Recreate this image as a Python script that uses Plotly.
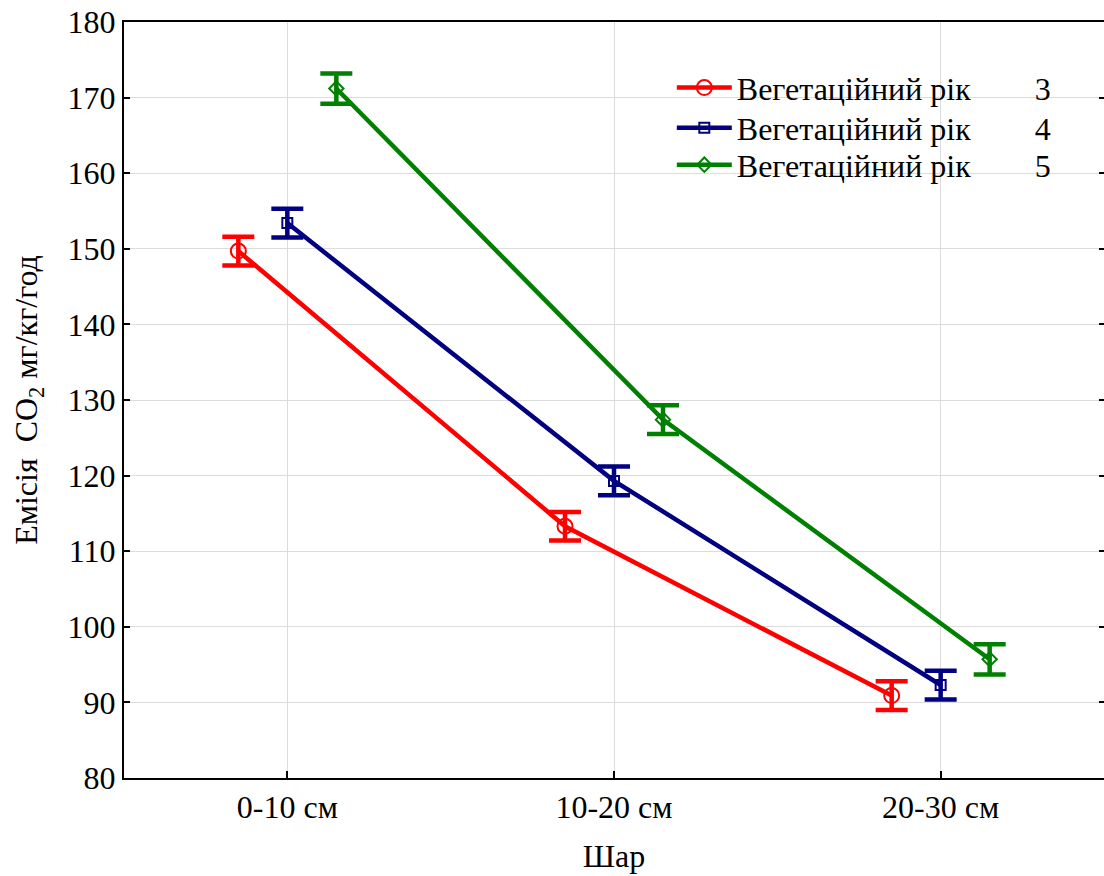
import plotly.graph_objects as go

categories = ["0-10 см", "10-20 см", "20-30 см"]
series_names = ["3", "4", "5"]
year3 = [149.7, 113.3, 90.9]
year4 = [153.4, 119.3, 92.3]
year5 = [171.2, 127.4, 95.7]
err3 = [1.9, 1.9, 1.9]
err4 = [1.9, 1.9, 1.9]
err5 = [2.0, 1.9, 2.0]
y_ticks = [80, 90, 100, 110, 120, 130, 140, 150, 160, 170, 180]

colors = ["#ff0000", "#000080", "#008000"]
symbols = ["circle-open", "square-open", "diamond-open"]
msizes = [15, 10, 11]
offsets = [-0.15, 0.0, 0.15]
values = [year3, year4, year5]
errors = [err3, err4, err5]
legend_ids = ["legend", "legend2", "legend3"]
legend_y = [0.913, 0.860, 0.811]

FONT = "Liberation Serif"
FS = 32
fig = go.Figure()
for i in range(3):
    xs = [k + offsets[i] for k in range(len(categories))]
    label = "Вегетаційний рік" + "\u00a0" * 8 + series_names[i]
    fig.add_trace(go.Scatter(
        x=xs, y=values[i], name=label, mode="lines+markers",
        legend=legend_ids[i],
        line=dict(color=colors[i], width=4.5),
        marker=dict(symbol=symbols[i], size=msizes[i], color=colors[i],
                    line=dict(width=2, color=colors[i])),
        error_y=dict(type="data", array=errors[i], visible=True,
                     color=colors[i], thickness=4.5, width=16),
    ))

# invisible trace for right-side ticks
fig.add_trace(go.Scatter(x=[0], y=[130], yaxis="y2", mode="markers",
                         marker=dict(opacity=0), showlegend=False, hoverinfo="skip"))

legend_common = dict(xanchor="left", yanchor="middle", bgcolor="rgba(0,0,0,0)",
                     itemwidth=55, font=dict(family=FONT, size=FS, color="black"))

fig.update_layout(
    width=1104, height=876,
    margin=dict(l=124, r=0, t=22, b=98),
    paper_bgcolor="white", plot_bgcolor="white",
    font=dict(family=FONT, size=FS, color="black"),
    xaxis=dict(
        range=[-0.5, 2.5], tickvals=[0, 1, 2], ticktext=categories,
        showgrid=True, gridcolor="#dcdcdc", gridwidth=1,
        showline=True, linecolor="black", linewidth=2, mirror=True,
        ticks="inside", ticklen=7, tickwidth=1.5, tickcolor="black",
        zeroline=False,
        tickfont=dict(family=FONT, size=FS),
        title=dict(text="Шар", standoff=20, font=dict(family=FONT, size=FS)),
    ),
    yaxis=dict(
        range=[80, 180], tickvals=y_ticks,
        showgrid=True, gridcolor="#dcdcdc", gridwidth=1,
        showline=True, linecolor="black", linewidth=2,
        ticks="inside", ticklen=6, tickwidth=1.5, tickcolor="black",
        zeroline=False,
        tickfont=dict(family=FONT, size=FS),
        title=dict(text="Емісія  CO<sub>2</sub> мг/кг/год", standoff=20,
                   font=dict(family=FONT, size=FS)),
    ),
    yaxis2=dict(
        range=[80, 180], tickvals=y_ticks, overlaying="y", side="right",
        showgrid=False, showline=False, showticklabels=False,
        ticks="inside", ticklen=5, tickwidth=1.5, tickcolor="black", zeroline=False,
    ),
    legend=dict(x=0.559, y=legend_y[0], **legend_common),
    legend2=dict(x=0.559, y=legend_y[1], **legend_common),
    legend3=dict(x=0.559, y=legend_y[2], **legend_common),
    showlegend=True,
)

fig.write_html("out.html", config={"displayModeBar": False},
               post_script="document.body.style.margin='0';document.body.style.overflow='hidden';")
